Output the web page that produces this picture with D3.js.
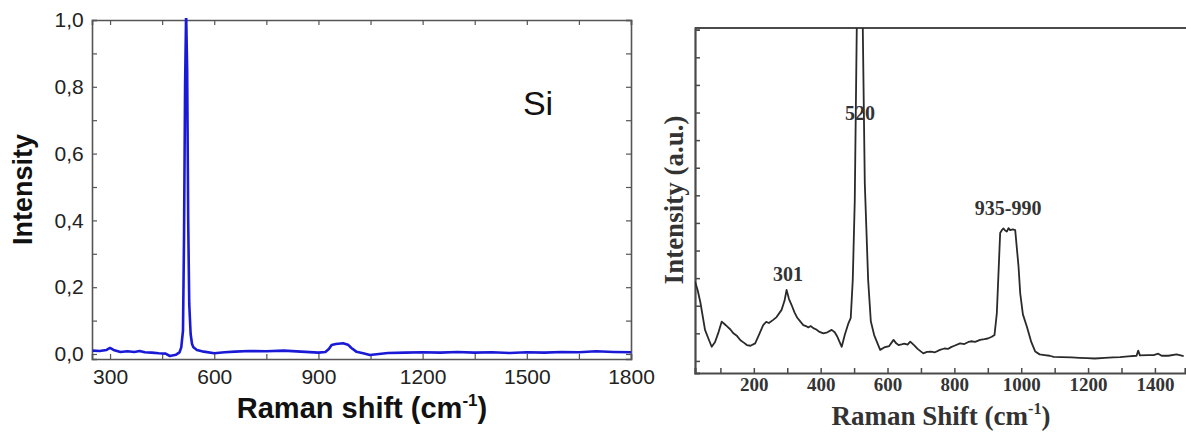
<!DOCTYPE html>
<html>
<head>
<meta charset="utf-8">
<script src="https://cdn.jsdelivr.net/npm/d3@7"></script>
<style>
  body { margin: 0; background: #fff; }
  svg { display: block; }
</style>
</head>
<body>
<svg id="chart" width="1186" height="434"></svg>
<script>
// Left panel: Si spectrum (normalised)
const siShift = [250, 270, 290, 300, 310, 330, 350, 370, 385, 400, 420, 440, 460, 472, 490, 500, 505,
  510, 513, 516, 519, 522, 525, 528, 532, 536, 540, 550, 570, 600, 630, 660, 700, 750, 800, 850,
  900, 920, 930, 938, 950, 971, 985, 995, 1009, 1029, 1048, 1100, 1150, 1200, 1250, 1300, 1350,
  1400, 1450, 1500, 1550, 1600, 1650, 1700, 1750, 1800];
const siIntensity = [0.010, 0.009, 0.012, 0.018, 0.012, 0.006, 0.008, 0.006, 0.009, 0.005, 0.004,
  0.002, 0.001, -0.006, -0.002, 0.005, 0.02, 0.07, 0.35, 0.80, 1.02, 0.85, 0.40, 0.15, 0.06, 0.03,
  0.02, 0.012, 0.007, 0.002, 0.005, 0.007, 0.009, 0.008, 0.010, 0.007, 0.004, 0.006, 0.015, 0.027,
  0.030, 0.032, 0.028, 0.018, 0.007, 0.002, -0.003, 0.003, 0.004, 0.005, 0.004, 0.006, 0.004,
  0.005, 0.003, 0.005, 0.004, 0.006, 0.005, 0.008, 0.006, 0.005];
const siXTicks = [300, 600, 900, 1200, 1500, 1800];
const siYTicks = [0, 0.2, 0.4, 0.6, 0.8, 1.0];

// Right panel: reference spectrum (arbitrary units)
const refShift = [24, 32, 40, 54, 64, 74, 84, 95, 104, 112, 120, 130, 139, 150, 160, 170, 179, 190,
  204, 215, 228, 237, 245, 258, 268, 283, 292, 298, 305, 313, 322, 330, 340, 348, 356, 363, 370,
  378, 387, 395, 408, 420, 433, 442, 450, 463, 472, 483, 490, 496, 502, 508, 512, 517, 522, 526,
  532, 542, 550, 560, 578, 590, 605, 618, 626, 633, 642, 650, 660, 668, 680, 690, 707, 718, 730,
  742, 757, 770, 782, 790, 800, 817, 830, 842, 850, 862, 877, 890, 900, 912, 920, 927, 937, 942,
  947, 952, 957, 962, 967, 975, 982, 992, 997, 1005, 1017, 1030, 1042, 1055, 1070, 1085, 1097,
  1120, 1150, 1175, 1197, 1220, 1250, 1275, 1296, 1320, 1345, 1350, 1355, 1380, 1396, 1410, 1420,
  1440, 1465, 1486];
const refIntensity = [26.5, 24, 20.5, 12.5, 10, 7.6, 9, 12, 14.9, 14.2, 13.5, 12.6, 11.5, 10.7, 9.5,
  8.8, 8.1, 7.9, 8.6, 11, 13.9, 14.8, 14.5, 15.4, 16.2, 18.3, 21, 24.1, 21.5, 19.7, 17.5, 16,
  14.8, 13.9, 13.6, 13.2, 13.6, 13.0, 12.6, 12, 11.5, 11.8, 12.5, 11.8, 10.5, 7.6, 11, 14.4, 16,
  27, 50, 100, 170, 250, 170, 100, 55, 27, 15, 11, 6.7, 7.4, 7.8, 9.6, 8.6, 8.1, 8.3, 8.5, 8.2,
  9.1, 8, 7, 5.7, 6.1, 6.2, 6.0, 6.7, 7.1, 7.0, 7.5, 7.9, 8.6, 8.4, 9.0, 9.2, 9.0, 9.6, 9.8, 10,
  10.5, 11, 17.3, 40.6, 41.4, 41.9, 41.3, 41, 42, 41.4, 41.6, 41.4, 30.8, 23.1, 17, 13.4, 9, 6.2,
  5.4, 5.2, 5, 4.7, 4.6, 4.5, 4.4, 4.3, 4.2, 4.4, 4.5, 4.6, 4.8, 5.0, 6.5, 5.1, 5.2, 5.2, 5.6,
  5.0, 5.0, 5.4, 4.9, 4.7];
const refXTicks = [200, 400, 600, 800, 1000, 1200, 1400];
// label anchor (baseline) positions in data units
const refPeaks = [
  { label: "301", shift: 302, value: 26.7 },
  { label: "520", shift: 518, value: 73.3 },
  { label: "935-990", shift: 961, value: 45.8 }
];

const svg = d3.select("#chart");

// ---------- left panel ----------
const L = { left: 92, right: 631, top: 20, bottom: 359 };
const xL = d3.scaleLinear().domain([248, 1800]).range([L.left, L.right]);
const yL = d3.scaleLinear().domain([-0.015, 1.0]).range([L.bottom, L.top]);
const sans = "Liberation Sans, Arial, sans-serif";
const frameL = "#555";

const left = svg.append("g").attr("class", "left-panel");

left.append("defs").append("clipPath").attr("id", "clipL")
  .append("rect")
  .attr("x", L.left).attr("y", L.top - 2)
  .attr("width", L.right - L.left).attr("height", L.bottom - L.top + 2);

const minorX = d3.range(300, 1801, 150);
const minorY = d3.range(0, 1.01, 0.1);

// bottom axis (ticks inward)
const axB = left.append("g")
  .attr("transform", `translate(0,${L.bottom})`)
  .call(d3.axisBottom(xL).tickValues(minorX).tickSize(-5)
    .tickFormat(d => siXTicks.includes(d) ? d : ""));
axB.selectAll("text").attr("dy", "1.05em");
// top axis
left.append("g")
  .attr("transform", `translate(0,${L.top})`)
  .call(d3.axisTop(xL).tickValues(minorX).tickSize(-5).tickFormat(""));
// left axis
const axLf = left.append("g")
  .attr("transform", `translate(${L.left},0)`)
  .call(d3.axisLeft(yL).tickValues(minorY).tickSize(-5)
    .tickFormat(d => siYTicks.some(t => Math.abs(t - d) < 1e-6) ? d3.format(".1f")(d).replace(".", ",") : ""));
axLf.selectAll("text").attr("dx", "-0.25em");
// right axis
left.append("g")
  .attr("transform", `translate(${L.right},0)`)
  .call(d3.axisRight(yL).tickValues(minorY).tickSize(-5).tickFormat(""));

left.selectAll(".domain").attr("stroke", frameL).attr("stroke-width", 1.6);
left.selectAll(".tick line").attr("stroke", frameL).attr("stroke-width", 1.2);
left.selectAll(".tick text")
  .attr("font-family", sans).attr("font-size", 21).attr("fill", "#222");

left.append("path")
  .datum(siShift.map((s, i) => [s, siIntensity[i]]))
  .attr("clip-path", "url(#clipL)")
  .attr("fill", "none")
  .attr("stroke", "#1a1ad6")
  .attr("stroke-width", 2.6)
  .attr("stroke-linejoin", "round")
  .attr("d", d3.line().x(d => xL(d[0])).y(d => yL(d[1])));

left.append("text")
  .attr("x", 538).attr("y", 115)
  .attr("text-anchor", "middle")
  .attr("font-family", sans).attr("font-size", 34).attr("fill", "#111")
  .text("Si");

left.append("text")
  .attr("transform", `translate(32,${(L.top + L.bottom) / 2}) rotate(-90)`)
  .attr("text-anchor", "middle")
  .attr("font-family", sans).attr("font-size", 27).attr("font-weight", "bold").attr("fill", "#111")
  .text("Intensity");

const xlabL = left.append("text")
  .attr("x", 362).attr("y", 418)
  .attr("text-anchor", "middle")
  .attr("font-family", sans).attr("font-size", 29).attr("font-weight", "bold").attr("fill", "#111");
xlabL.append("tspan").text("Raman shift (cm");
xlabL.append("tspan").attr("dy", -12).attr("font-size", 17).text("-1");
xlabL.append("tspan").attr("dy", 12).text(")");

// ---------- right panel ----------
const R = { left: 695, right: 1185, top: 28, bottom: 373 };
const xR = d3.scaleLinear().domain([24, 1490]).range([R.left, R.right]);
const yR = d3.scaleLinear().domain([0, 100]).range([R.bottom, R.top]);
const serif = "Liberation Serif, Times New Roman, serif";
const frameR = "#4a4a4a";

const right = svg.append("g").attr("class", "right-panel");

right.append("defs").append("clipPath").attr("id", "clipR")
  .append("rect")
  .attr("x", R.left).attr("y", R.top)
  .attr("width", R.right - R.left).attr("height", R.bottom - R.top);

const axRB = right.append("g")
  .attr("transform", `translate(0,${R.bottom})`)
  .call(d3.axisBottom(xR).tickValues(d3.range(100, 1500, 100)).tickSize(-5)
    .tickFormat(d => refXTicks.includes(d) ? d : ""));
axRB.selectAll("text").attr("dy", "0.78em");
right.append("g")
  .attr("transform", `translate(${R.left},0)`)
  .call(d3.axisLeft(yR).tickValues(d3.range(3.5, 100, 8)).tickSize(-5).tickFormat(""));
right.append("line")
  .attr("x1", R.left).attr("x2", 1186).attr("y1", R.top).attr("y2", R.top)
  .attr("stroke", frameR).attr("stroke-width", 2.2);

right.selectAll(".domain").attr("stroke", frameR).attr("stroke-width", 2.2);
right.selectAll(".tick line").attr("stroke", frameR).attr("stroke-width", 1.5);
right.selectAll(".tick text")
  .attr("font-family", serif).attr("font-size", 19).attr("font-weight", "bold").attr("fill", "#333");

right.append("path")
  .datum(refShift.map((s, i) => [s, refIntensity[i]]))
  .attr("clip-path", "url(#clipR)")
  .attr("fill", "none")
  .attr("stroke", "#2a2a2a")
  .attr("stroke-width", 1.8)
  .attr("stroke-linejoin", "round")
  .attr("d", d3.line().x(d => xR(d[0])).y(d => yR(d[1])));

right.selectAll(".peak-label")
  .data(refPeaks)
  .enter()
  .append("text")
  .attr("class", "peak-label")
  .attr("x", d => xR(d.shift))
  .attr("y", d => yR(d.value))
  .attr("text-anchor", "middle")
  .attr("font-family", serif).attr("font-size", 20).attr("font-weight", "bold").attr("fill", "#333")
  .text(d => d.label);

right.append("text")
  .attr("transform", `translate(683,200) rotate(-90)`)
  .attr("text-anchor", "middle")
  .attr("font-family", serif).attr("font-size", 27).attr("font-weight", "bold").attr("fill", "#333")
  .text("Intensity (a.u.)");

const xlabR = right.append("text")
  .attr("x", 941).attr("y", 425)
  .attr("text-anchor", "middle")
  .attr("font-family", serif).attr("font-size", 27).attr("font-weight", "bold").attr("fill", "#333");
xlabR.append("tspan").text("Raman Shift (cm");
xlabR.append("tspan").attr("dy", -11).attr("font-size", 16).text("-1");
xlabR.append("tspan").attr("dy", 11).text(")");
</script>
</body>
</html>
